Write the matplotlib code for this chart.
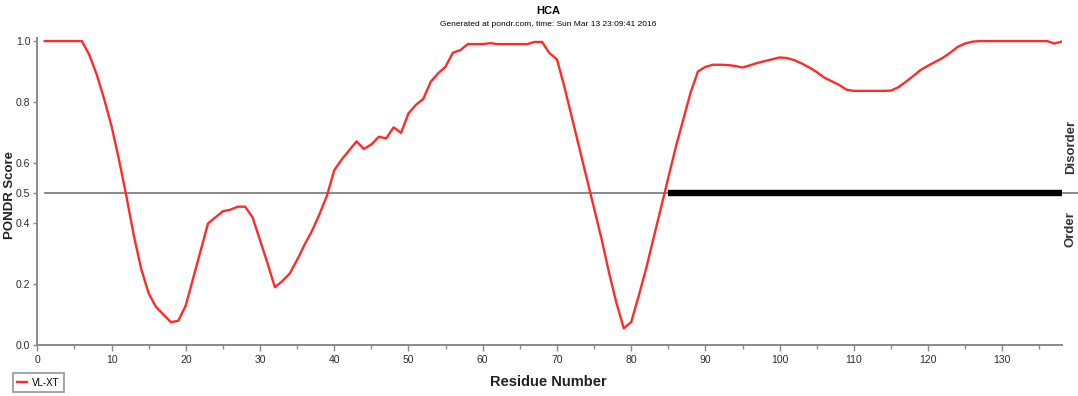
import numpy as np
import matplotlib
matplotlib.use("Agg")
import matplotlib.pyplot as plt
from matplotlib.ticker import MultipleLocator, FixedLocator

plt.rcParams['font.family'] = ['Liberation Sans', 'DejaVu Sans']

# PONDR VL-XT disorder scores per residue (1..138)
residues = np.arange(1, 139)
vlxt_scores = [
    1.0, 1.0, 1.0, 1.0, 1.0, 1.0, 0.955, 0.89, 0.81, 0.72,
    0.61, 0.49, 0.36, 0.25, 0.17, 0.125, 0.10, 0.075, 0.08, 0.13,
    0.22, 0.31, 0.40, 0.42, 0.44, 0.445, 0.455, 0.455, 0.42, 0.345,
    0.27, 0.19, 0.21, 0.235, 0.28, 0.33, 0.375, 0.43, 0.49, 0.575,
    0.61, 0.64, 0.67, 0.645, 0.66, 0.685, 0.68, 0.716, 0.698, 0.762,
    0.79, 0.81, 0.866, 0.894, 0.916, 0.962, 0.97, 0.99, 0.99, 0.99,
    0.993, 0.99, 0.99, 0.99, 0.99, 0.99, 0.997, 0.997, 0.96, 0.94,
    0.85, 0.75, 0.65, 0.55, 0.45, 0.35, 0.24, 0.14, 0.055, 0.075,
    0.16, 0.25, 0.35, 0.45, 0.55, 0.65, 0.74, 0.83, 0.90, 0.915,
    0.922, 0.922, 0.921, 0.918, 0.913, 0.92, 0.928, 0.934, 0.94, 0.946,
    0.944, 0.937, 0.926, 0.913, 0.898, 0.88, 0.868, 0.856, 0.84, 0.836,
    0.836, 0.836, 0.836, 0.836, 0.837, 0.848, 0.866, 0.885, 0.905, 0.919,
    0.932, 0.945, 0.962, 0.981, 0.992, 0.998, 1.0, 1.0, 1.0, 1.0,
    1.0, 1.0, 1.0, 1.0, 1.0, 1.0, 0.992, 0.998,
]

# Predicted disordered segment (score above threshold)
disorder_start, disorder_end = 85, 138
threshold = 0.5

x_ticks = list(range(0, 140, 10))
y_ticks = [0.0, 0.2, 0.4, 0.5, 0.6, 0.8, 1.0]
y_ticklabels = ["0.0", "0.2", "0.4", "0.5", "0.6", "0.8", "1.0"]

title = "HCA"
subtitle = "Generated at pondr.com, time: Sun Mar 13 23:09:41 2016"

W, H = 1078, 396
fig = plt.figure(figsize=(W / 100, H / 100), dpi=100)
ax = fig.add_axes([37.3 / W, 1 - 345 / H, (1061.7 - 37.3) / W, 307 / H])

spine_col = "#8a8a8a"
ax.axhline(threshold, xmin=1 / 138, xmax=1.015, color="#808080", lw=1.3,
           clip_on=False, zorder=1)
ax.plot([disorder_start, disorder_end], [threshold, threshold], color="black",
        lw=4.6, solid_capstyle="butt", zorder=2)
line, = ax.plot(residues, vlxt_scores, color="#ff2b2b", lw=1.7, zorder=3,
                label="VL-XT")

ax.set_xlim(0, 138)
ax.set_ylim(0, 1.01)
ax.xaxis.set_major_locator(FixedLocator(x_ticks))
ax.xaxis.set_minor_locator(MultipleLocator(5))
ax.set_yticks(y_ticks)
ax.set_yticklabels(y_ticklabels)

for side in ("top", "right"):
    ax.spines[side].set_visible(False)
for side in ("left", "bottom"):
    ax.spines[side].set_color(spine_col)
    ax.spines[side].set_linewidth(1.4)

ax.tick_params(axis="both", which="both", direction="out", color=spine_col,
               labelsize=7.5, labelcolor="#2a2a2a")
ax.tick_params(axis="x", which="major", length=4, width=1.0, pad=3)
ax.tick_params(axis="x", which="minor", length=3, width=1.0)
ax.tick_params(axis="y", which="major", length=3, width=1.0, pad=2)

fig.text(548 / W, 1 - 382 / H, "Residue Number", ha="center", va="center",
         fontsize=10.5, fontweight="bold", color="#222222")
fig.text(10 / W, 1 - 195 / H, "PONDR Score", rotation=90, ha="center",
         va="center", fontsize=9.5, fontweight="bold", color="#222222")

fig.text(548 / W, 1 - 11 / H, title, ha="center", va="center", fontsize=8,
         fontweight="bold")
fig.text(548 / W, 1 - 25 / H, subtitle, ha="center", va="center", fontsize=6)

fig.text(1071 / W, 1 - 147 / H, "Disorder", rotation=90, ha="center",
         va="center", fontsize=9.5, fontweight="bold", color="#333333")
fig.text(1071 / W, 1 - 229 / H, "Order", rotation=90, ha="center",
         va="center", fontsize=9.5, fontweight="bold", color="#333333")

leg = fig.legend(handles=[line], loc="lower left",
                 bbox_to_anchor=(13 / W, 1 - 392 / H), fontsize=7,
                 frameon=True, fancybox=False, handlelength=1.0,
                 handletextpad=0.5, borderpad=0.45, borderaxespad=0)
leg.get_frame().set_edgecolor("#7a7a7a")
leg.get_frame().set_linewidth(1.2)

fig.savefig("out.png", dpi=100)
